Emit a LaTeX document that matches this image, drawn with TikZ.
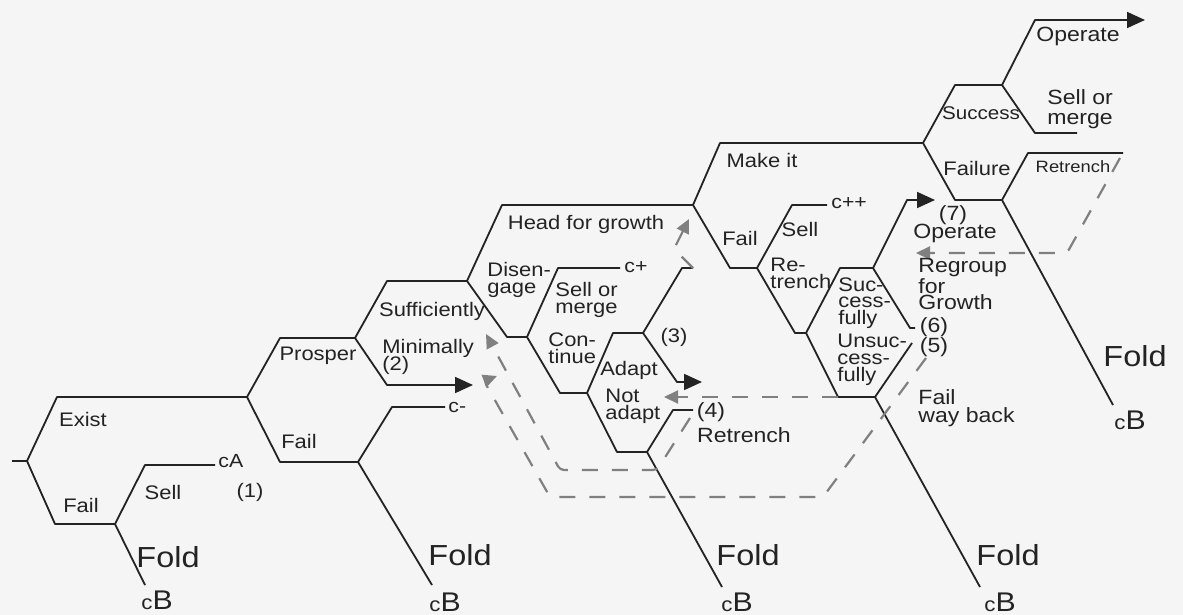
\documentclass[tikz,border=0pt]{standalone}
\usepackage{fontspec}
\setmainfont{Liberation Sans}[FakeStretch=1.12]
\usepackage{tikz}
\usetikzlibrary{arrows.meta}
\definecolor{paper}{RGB}{245,245,246}
\definecolor{ink}{RGB}{35,35,35}
\definecolor{retgray}{RGB}{128,128,128}
\newcommand{\smallc}{{\fontsize{10}{10}\selectfont c}}

\begin{document}
\begin{tikzpicture}[x=0.5pt, y=-0.5pt,
  branch/.style={draw=ink, line width=0.9pt, line join=round},
  goon/.style={branch, -{Triangle[length=9pt,width=8pt]}},
  backpath/.style={draw=retgray, line width=1.1pt, dash pattern=on 8pt off 7pt, rounded corners=2pt, -{Triangle[length=7pt,width=6.5pt]}},
  lbl/.style={inner sep=0pt, text=ink, font=\fontsize{9.8}{8.4}\selectfont, align=left},
  note/.style={inner sep=0pt, text=ink, font=\fontsize{10.3}{9}\selectfont, align=left},
  endstate/.style={inner sep=0pt, text=ink, font=\fontsize{9.5}{9.5}\selectfont},
  foldlbl/.style={inner sep=0pt, text=ink, font=\fontsize{14.5}{14.5}\selectfont},
  cblbl/.style={inner sep=0pt, text=ink, font=\fontsize{13.5}{13.5}\selectfont}
]
\fill[paper] (0,0) rectangle (1183,615);
\useasboundingbox (0,0) rectangle (1183,615);

% stage 1: exist or fail
\coordinate (start) at (12,461);
\coordinate (root) at (27,461);
\coordinate (exist) at (57,397);
\coordinate (jexist) at (247,397);
\coordinate (fail1) at (55,524);
\coordinate (jfail1) at (115,524);
\coordinate (sell1) at (145,465);
\coordinate (ca) at (215,465);
\coordinate (fold1) at (145,585);

% stage 2: prosper or fail
\coordinate (prosper) at (280,338);
\coordinate (jprosper) at (355,338);
\coordinate (fail2) at (280,462);
\coordinate (jfail2) at (358,462);
\coordinate (sell2) at (392,407);
\coordinate (cminus) at (445,407);
\coordinate (fold2) at (432,585);
\coordinate (suff) at (387,281);
\coordinate (jsuff) at (467,281);
\coordinate (mini) at (387,385);
\coordinate (miniend) at (473,385);

% stage 3: head for growth, disengage
\coordinate (head) at (502,205);
\coordinate (jhead) at (693,205);
\coordinate (dis) at (507,337);
\coordinate (jdis) at (527,337);
\coordinate (sell3) at (558,268);
\coordinate (cplus) at (620,268);
\coordinate (cont) at (560,393);
\coordinate (jcont) at (587,393);
\coordinate (adapt) at (613,333);
\coordinate (jadapt) at (643,333);
\coordinate (adaptdn) at (677,382);
\coordinate (adaptend) at (702,382);
\coordinate (adaptup) at (682,268);
\coordinate (adaptupend) at (693,268);
\coordinate (notad) at (617,452);
\coordinate (jnotad) at (647,452);
\coordinate (ret4) at (673,410);
\coordinate (ret4end) at (693,410);
\coordinate (fold3) at (722,587);

% stage 4: make it or fail
\coordinate (make) at (720,143);
\coordinate (jmake) at (923,143);
\coordinate (fail4) at (730,268);
\coordinate (jfail4) at (757,268);
\coordinate (sell4) at (792,205);
\coordinate (cpp) at (827,205);
\coordinate (ret5) at (795,333);
\coordinate (jret5) at (806,333);
\coordinate (succ) at (840,268);
\coordinate (jsucc) at (873,268);
\coordinate (oper7) at (907,200);
\coordinate (oper7end) at (935,200);
\coordinate (regr) at (910,328);
\coordinate (regrend) at (915,328);
\coordinate (unsucc) at (838,397);
\coordinate (junsucc) at (875,397);
\coordinate (unsuccup) at (912,343);
\coordinate (fold4) at (980,587);

% stage 5: success or failure
\coordinate (success) at (955,85);
\coordinate (jsuccess) at (1002,85);
\coordinate (oper) at (1035,20);
\coordinate (operend) at (1145,20);
\coordinate (merge) at (1035,133);
\coordinate (mergeend) at (1077,133);
\coordinate (failure) at (955,200);
\coordinate (jfailure) at (1002,200);
\coordinate (retr) at (1028,153);
\coordinate (retrend) at (1123,153);
\coordinate (fold5) at (1113,405);

% solid tree
\draw[branch] (start) -- (root);
\draw[branch] (root) -- (exist) -- (jexist);
\draw[branch] (root) -- (fail1) -- (jfail1);
\draw[branch] (jfail1) -- (sell1) -- (ca);
\draw[branch] (jfail1) -- (fold1);
\draw[branch] (jexist) -- (prosper) -- (jprosper);
\draw[branch] (jexist) -- (fail2) -- (jfail2);
\draw[branch] (jfail2) -- (sell2) -- (cminus);
\draw[branch] (jfail2) -- (fold2);
\draw[branch] (jprosper) -- (suff) -- (jsuff);
\draw[goon] (jprosper) -- (mini) -- (miniend);
\draw[branch] (jsuff) -- (head) -- (jhead);
\draw[branch] (jsuff) -- (dis) -- (jdis);
\draw[branch] (jdis) -- (sell3) -- (cplus);
\draw[branch] (jdis) -- (cont) -- (jcont);
\draw[branch] (jcont) -- (adapt) -- (jadapt);
\draw[goon] (jadapt) -- (adaptdn) -- (adaptend);
\draw[branch] (jadapt) -- (adaptup) -- (adaptupend);
\draw[branch] (jcont) -- (notad) -- (jnotad);
\draw[branch] (jnotad) -- (ret4) -- (ret4end);
\draw[branch] (jnotad) -- (fold3);
\draw[branch] (jhead) -- (make) -- (jmake);
\draw[branch] (jhead) -- (fail4) -- (jfail4);
\draw[branch] (jfail4) -- (sell4) -- (cpp);
\draw[branch] (jfail4) -- (ret5) -- (jret5);
\draw[branch] (jret5) -- (succ) -- (jsucc);
\draw[goon] (jsucc) -- (oper7) -- (oper7end);
\draw[branch] (jsucc) -- (regr) -- (regrend);
\draw[branch] (jret5) -- (unsucc) -- (junsucc);
\draw[branch] (junsucc) -- (unsuccup);
\draw[branch] (junsucc) -- (fold4);
\draw[branch] (jmake) -- (success) -- (jsuccess);
\draw[goon] (jsuccess) -- (oper) -- (operend);
\draw[branch] (jsuccess) -- (merge) -- (mergeend);
\draw[branch] (jmake) -- (failure) -- (jfailure);
\draw[branch] (jfailure) -- (retr) -- (retrend);
\draw[branch] (jfailure) -- (fold5);

% dashed ways back
\coordinate (backA) at (926,358);
\coordinate (backB) at (690,418);
\coordinate (backD) at (1120,158);
\draw[backpath] (backA) -- (823,497) -- (550,497) -- (484,381) -- (497,376);
\draw[backpath] (backB) -- (657,470) -- (560,470) -- (486,334);
\draw[backpath] (unsucc) -- (664,397);
\draw[backpath] (backD) -- (1067,253) -- (916,253);
\draw[backpath] (adaptupend) -- (674,249) -- (689,219);

% labels
\node[lbl] (lexist) at (83,419) {Exist};
\node[lbl] (lfail1) at (81,505) {Fail};
\node[lbl] (lsell1) at (163,492) {Sell};
\node[lbl] (lone) at (250,492) {(1)};
\node[endstate, anchor=west] (lca) at (218,461) {cA};
\node[lbl] (lprosper) at (318,356) {Prosper};
\node[lbl] (lfail2) at (299,441) {Fail};
\node[lbl] (lsuff) at (432,311) {Sufficiently};
\node[lbl, anchor=west] (lmini) at (382,348) {Minimally};
\node[lbl, anchor=west] (ltwo) at (382,365) {(2)};
\node[endstate, anchor=west] (lcminus) at (448,407) {c-};
\node[lbl] (lhead) at (586,224) {Head for growth};
\node[lbl, anchor=west] (ldis) at (487,280) {Disen-\\gage};
\node[endstate, anchor=west] (lcplus) at (624,267) {c+};
\node[lbl, anchor=west] (lsell3) at (555,300) {Sell or\\merge};
\node[lbl, anchor=west] (lcont) at (548,348) {Con-\\tinue};
\node[lbl] (lthree) at (674,337) {(3)};
\node[lbl] (ladapt) at (629,370) {Adapt};
\node[lbl, anchor=west] (lnotad) at (605,406) {Not\\adapt};
\node[note] (lfour) at (711,412) {(4)};
\node[note] (lret4) at (744,435) {Retrench};
\node[lbl] (lmake) at (762,160) {Make it};
\node[lbl] (lfail4) at (740,238) {Fail};
\node[endstate, anchor=west] (lcpp) at (831,203) {c++};
\node[lbl] (lsell4) at (800,229) {Sell};
\node[lbl, anchor=west] (lret5) at (770,273) {Re-\\trench};
\node[lbl, anchor=west] (lsucc) at (838,303) {Suc-\\cess-\\fully};
\node[lbl, anchor=west] (lunsucc) at (837,360) {Unsuc-\\cess-\\fully};
\node[note] (lseven) at (953,215) {(7)};
\node[note] (loper7) at (955,233) {Operate};
\node[note, anchor=west, font=\fontsize{10.3}{8.1}\selectfont] (lregr) at (918,284) {Regroup\\for\\Growth};
\node[note] (lsix) at (934,327) {(6)};
\node[note] (lfive) at (934,347) {(5)};
\node[note, anchor=west] (lfwb) at (918,408) {Fail\\way back};
\node[lbl, font=\fontsize{9.2}{9}\selectfont] (lsuccess) at (981,113) {Success};
\node[lbl] (lfailure) at (977,168) {Failure};
\node[note] (loper) at (1078,36) {Operate};
\node[note, anchor=west, font=\fontsize{10.3}{10}\selectfont] (lmerge) at (1047,109) {Sell or\\merge};
\node[lbl, font=\fontsize{8.2}{8}\selectfont] (lretr) at (1073,167) {Retrench};

% folds
\node[foldlbl] (lfold1) at (168,557) {Fold};
\node[cblbl] (lcb1) at (157,600) {\smallc B};
\node[foldlbl] (lfold2) at (460,555) {Fold};
\node[cblbl] (lcb2) at (445,602) {\smallc B};
\node[foldlbl] (lfold3) at (748,555) {Fold};
\node[cblbl] (lcb3) at (737,602) {\smallc B};
\node[foldlbl] (lfold4) at (1008,555) {Fold};
\node[cblbl] (lcb4) at (1000,602) {\smallc B};
\node[foldlbl] (lfold5) at (1135,356) {Fold};
\node[cblbl] (lcb5) at (1130,420) {\smallc B};
\end{tikzpicture}
\end{document}
